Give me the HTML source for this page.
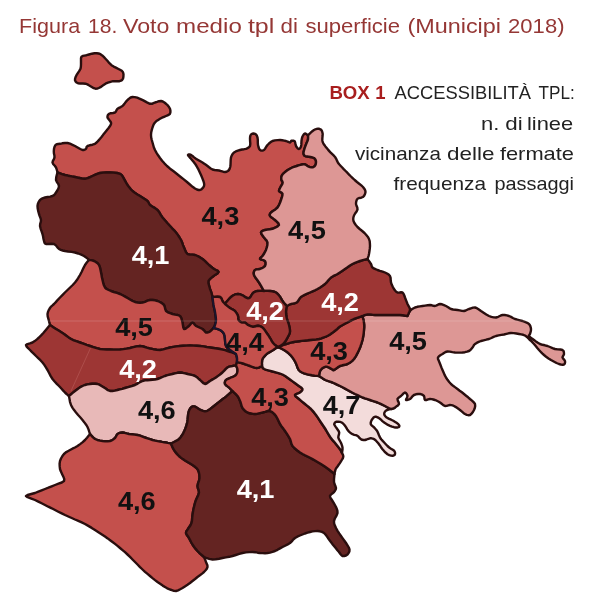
<!DOCTYPE html>
<html lang="it"><head><meta charset="utf-8"><title>Figura 18. Voto medio tpl di superficie (Municipi 2018)</title>
<style>
html,body{margin:0;padding:0;background:#fff;}
body{width:600px;height:602px;overflow:hidden;font-family:"Liberation Sans",sans-serif;}
svg{display:block;filter:blur(0.45px)}
.t{font-family:"Liberation Sans",sans-serif}
.lab{font-family:"Liberation Sans",sans-serif;font-weight:700;font-size:26px}
.reg{stroke:#2a0e0e;stroke-width:2.4;stroke-linejoin:round}
</style></head><body>
<svg width="600" height="602" viewBox="0 0 600 602">
<rect width="600" height="602" fill="#fff"/>
<g class="reg">
<path fill="#c4504c" d="M81.5,56.7 L82.7,55.9 L84.4,55.6 L86.5,55.2 L89,54.5 L91.9,53.7 L94.5,53.2 L96.7,53.2 L98.6,53.5 L100.5,54.2 L102.2,55.4 L103.8,56.9 L105.5,58.7 L107.4,60.8 L109.4,63.2 L111.5,65.2 L113.7,66.6 L115.9,67.6 L118,68.7 L120,69.8 L121.8,70.8 L123,72.2 L123.5,74.3 L123.4,76.7 L123,78.7 L122.2,79.9 L121,80.7 L119.5,81.2 L117.6,81.3 L115.4,81.1 L113,81.2 L110.5,81.8 L107.9,82.7 L105.5,83.7 L103.6,84.9 L102.1,86.1 L100.5,87.2 L98.8,88 L97.2,88.6 L95.5,88.7 L93.8,88.2 L92.2,87.2 L90.5,86.2 L88.9,85.3 L87.4,84.4 L85.5,83.7 L83,83.5 L80.3,83.5 L78,83.2 L76.5,82.5 L75.5,81.4 L75,80.2 L75.1,78.7 L75.6,77.1 L76.5,75.2 L77.8,73.1 L79.3,70.9 L80.5,68.7 L80.9,66.5 L81,64.3 L81,62.2 L81,60.1 L81,58.2Z"/>
<path fill="#c4504c" d="M57.5,172.5 L57.2,171.2 L56.7,169.4 L56,167.5 L54.8,165.8 L53.3,164.2 L52.5,162.5 L52.9,160.9 L53.8,159.3 L54.5,157.5 L54.4,155.4 L53.9,153.2 L53.8,151 L54,148.8 L54.6,146.6 L55.5,145 L56.7,144.2 L58.2,144 L60,143.8 L62.3,143.3 L64.9,143 L67.5,143 L70,143.7 L72.5,144.8 L75,146 L77.6,147.5 L80.3,149 L82.5,150 L84,150 L85.1,149.5 L86,148.8 L86.4,147.9 L86.6,146.9 L87.5,146 L89.6,145.3 L92.5,144.7 L95,143.8 L96.9,142.3 L98.4,140.6 L100,138.8 L101.7,136.8 L103.3,134.6 L105,132.5 L106.8,130.2 L108.6,128 L110,126 L110.8,124.7 L111.1,123.7 L111,122.5 L110,120.9 L108.5,119.1 L107.5,117.5 L107.5,116.1 L108,114.8 L109,113.8 L110.8,113.2 L113.1,113 L115,112.5 L116,111.4 L116.6,110 L117.5,108.8 L119,107.9 L120.7,107.1 L122.5,106 L124.2,104.1 L125.8,101.9 L127.5,100 L129.1,98.6 L130.6,97.5 L132.5,97 L134.7,97.1 L137.2,97.7 L140,98.8 L143.3,100.4 L146.9,102.4 L150,103.8 L152,103.8 L153.4,103.2 L155,102.5 L157,101.9 L159,101.2 L161,101 L162.8,101.5 L164.4,102.5 L166,103.8 L167.6,105.2 L169,107 L170,108.8 L170.4,110.5 L170.4,112.3 L170,113.8 L169,114.7 L167.6,115.3 L166,116 L164.1,116.8 L162,117.7 L160,118.8 L158.2,119.9 L156.4,121.1 L155,122.5 L153.9,124 L153.2,125.6 L152.5,127.5 L151.8,129.8 L151.2,132.4 L151,135 L151.2,137.5 L151.8,140 L152.5,142.5 L153.2,145 L153.9,147.5 L155,150 L156.4,152.6 L158.1,155.3 L160,158 L162.1,160.7 L164.4,163.3 L167,166 L170.1,168.7 L173.6,171.3 L177,174 L180.4,176.7 L183.8,179.4 L187,182 L189.9,184.5 L192.6,186.8 L195,188.5 L196.9,189.5 L198.6,190 L200,190 L201.4,189.4 L202.6,188.2 L203.5,187 L204,185.9 L204.2,184.7 L204,183 L203.3,180.7 L202.2,177.9 L201,175 L199.6,172 L198.1,168.8 L196.5,166 L195,163.7 L193.5,161.8 L192,160 L190.4,158.1 L188.8,156.3 L188,155 L188.4,154.5 L189.6,154.5 L191,155 L192.5,156 L194.1,157.4 L196,158.8 L198.1,160 L200.4,161.3 L202.5,162.5 L204.3,163.7 L205.9,164.8 L207.5,166 L209.1,167.3 L210.7,168.5 L212.5,169.5 L214.6,170 L216.8,170.2 L219,170.5 L221.1,171.1 L223.2,171.7 L225,172 L226.6,171.7 L227.9,171 L229,170 L229.7,168.6 L230.2,167 L230.5,165 L230.6,162.6 L230.7,159.9 L231,157.5 L231.7,155.6 L232.7,153.9 L234,152.5 L235.8,151.4 L237.9,150.6 L240,150 L242.1,149.5 L244.1,149.2 L246,148.8 L247.6,148.1 L249,147.3 L250,146 L250.3,143.8 L250.1,141.1 L250,138.8 L250.1,137 L250.4,135.5 L251,134.5 L252.2,133.8 L253.7,133.5 L255,133.8 L256,134.5 L256.9,135.8 L257.5,137.5 L257.8,139.8 L257.8,142.5 L258,145 L258.5,147 L259.1,148.8 L260,150 L261.2,150.6 L262.6,150.6 L264,150 L265.1,148.7 L266.2,146.8 L267.5,145 L269,143.5 L270.6,142.1 L272.5,141 L274.9,140.4 L277.5,140.1 L280,140 L282.2,140.2 L284.2,140.6 L286,141 L287.6,141.6 L288.9,142.2 L290,142.5 L290.6,142.1 L291,141.2 L291.5,140.7 L292.5,140.6 L293.7,140.7 L294.7,141.3 L295.2,142.6 L295.5,144.4 L296,146 L296.8,147.3 L297.8,148.5 L298.7,149 L299.6,148.7 L300.4,147.8 L301,146.5 L301.3,144.9 L301.4,142.9 L301.5,141 L301.7,139.4 L302,137.9 L302.5,136.5 L303.2,135.2 L304.1,134.1 L305,133.5 L306.1,133.9 L307.2,134.8 L308,135.5 L308.1,136.5 L308.1,138 L308,139.5 L307.6,140.7 L307.1,141.9 L306.5,143.3 L305.8,145 L305.1,146.9 L304.5,148.7 L304,150.4 L303.6,151.9 L303.5,153.3 L303.7,154.4 L304.2,155.3 L305,156 L306,156.4 L307.3,156.5 L308.7,156.7 L310.5,157 L312.4,157.4 L314,158 L315,158.9 L315.7,160.1 L316,161.3 L316,162.7 L315.8,164.1 L315.3,165.3 L314.6,166.2 L313.7,166.9 L312.7,167.3 L311.4,167.4 L310,167.1 L308.7,166.7 L307.5,166 L306.4,165.1 L305.3,164.5 L304.3,164.3 L303.2,164.3 L302,164.5 L300.4,164.9 L298.5,165.4 L296.7,166 L294.9,166.6 L293.1,167.2 L291.3,168 L289.5,169 L287.7,170.1 L286,171.3 L284.4,172.6 L283,173.9 L282,175.3 L281.4,176.7 L281.3,178 L281.3,179.3 L281.7,180.5 L282.4,181.5 L282.7,182.7 L282.3,184 L281.5,185.3 L280.7,186.7 L279.9,188.2 L279.2,189.7 L279,191 L280,191.9 L281.5,192.6 L282.5,193.8 L282.4,195.5 L281.8,197.7 L281,200 L280.1,202.5 L279,205.1 L277.5,207.5 L275.4,209.4 L272.9,211 L271,212.5 L270,213.8 L269.7,214.9 L270,216 L271.3,217.3 L273.2,218.6 L275,220 L276.8,221.6 L278.5,223.4 L279,225 L277.6,226.4 L275.1,227.7 L272.5,228.8 L269.9,229.3 L267.3,229.6 L265,230 L263.1,230.6 L261.7,231.4 L261,232.5 L261.5,234 L262.7,235.7 L264,237.5 L265.3,239.1 L266.7,240.6 L267.5,242.5 L267.4,244.9 L266.8,247.5 L266,250 L264.9,252.2 L263.7,254.3 L262.5,256 L261.3,257.3 L260.2,258.2 L260,259 L261.3,259.6 L263.4,260.1 L265,261 L265.6,262.5 L265.6,264.4 L265,266 L263.7,267.2 L261.9,268.2 L260,269 L258.2,269.3 L256.4,269.4 L255,270 L254.1,271.3 L253.7,273 L254,275 L255.2,277.3 L257.1,279.8 L259,282.5 L260.9,285.6 L262.7,288.8 L264,291 L262.2,290.9 L259.8,290.9 L257.5,291 L255.8,291.4 L254.3,292.1 L253,293 L251.9,294.5 L250.9,296.2 L250,297.5 L249,298.1 L248.1,298.2 L247,298 L245.8,297.4 L244.4,296.4 L243,295.5 L241.4,294.8 L239.7,294.2 L238,294 L236.3,294.2 L234.6,294.7 L233,295.5 L231.6,296.5 L230.3,297.6 L229,299 L227.5,300.7 L226,302.6 L225,304 L224.4,303.3 L223.4,302.2 L222.5,301 L221.9,299.6 L221.2,298.1 L220,297 L217.6,296.7 L214.6,296.9 L212.5,297 L212.3,296 L211.9,294.6 L211.5,293 L210.9,291.1 L210.1,289.1 L209.5,287 L208.9,284.9 L208.4,282.9 L208.5,281 L209.6,279.4 L211.2,277.9 L213,276.5 L215.1,274.9 L217.4,273.4 L218.5,272 L217.8,270.9 L215.9,270 L214,269 L212.4,267.8 L210.8,266.5 L209,265 L207,263.1 L204.8,260.9 L202.5,259 L200.1,257.4 L197.5,256 L195,255 L192.4,254.6 L189.7,254.6 L187.5,254 L186,252.3 L185,249.9 L184,247.5 L183,245.1 L182.1,242.5 L181,240 L179.5,237.5 L177.8,234.9 L176,232.5 L174.1,230.3 L172.1,228.3 L170,226 L167.5,223.3 L164.9,220.3 L162.5,217.5 L160.7,214.8 L159.3,212.3 L157.5,210 L155,208.1 L152.2,206.5 L150,205 L149,203.6 L148.5,202.4 L147.5,201 L145.4,199.4 L142.7,197.7 L140,196 L137.4,194.4 L134.8,192.7 L132.5,191 L130.6,189.1 L129,187.1 L127.5,185 L126.2,182.9 L125.1,180.8 L124,178.8 L122.9,176.9 L121.8,175.1 L120,173.8 L117.1,173 L113.6,172.6 L110,172.5 L106.6,172.4 L103.1,172.6 L100,173 L97.3,173.8 L94.9,174.9 L92.5,176 L90.1,177.1 L87.7,178.2 L85,178.8 L81.9,178.5 L78.4,177.8 L75,177 L71.6,176.4 L68.1,175.7 L65,175 L62,174.1 L59.4,173.2 L57.5,172.5Z"/>
<path fill="#642422" d="M57.5,172.5 L59.4,173.2 L62,174.1 L65,175 L68.1,175.7 L71.6,176.4 L75,177 L78.4,177.8 L81.9,178.5 L85,178.8 L87.7,178.2 L90.1,177.1 L92.5,176 L94.9,174.9 L97.3,173.8 L100,173 L103.1,172.6 L106.6,172.4 L110,172.5 L113.6,172.6 L117.1,173 L120,173.8 L121.8,175.1 L122.9,176.9 L124,178.8 L125.1,180.8 L126.2,182.9 L127.5,185 L129,187.1 L130.6,189.1 L132.5,191 L134.8,192.7 L137.4,194.4 L140,196 L142.7,197.7 L145.4,199.4 L147.5,201 L148.5,202.4 L149,203.6 L150,205 L152.2,206.5 L155,208.1 L157.5,210 L159.3,212.3 L160.7,214.8 L162.5,217.5 L164.9,220.3 L167.5,223.3 L170,226 L172.1,228.3 L174.1,230.3 L176,232.5 L177.8,234.9 L179.5,237.5 L181,240 L182.1,242.5 L183,245.1 L184,247.5 L185,249.9 L186,252.3 L187.5,254 L189.7,254.6 L192.4,254.6 L195,255 L197.5,256 L200.1,257.4 L202.5,259 L204.8,260.9 L207,263.1 L209,265 L210.8,266.5 L212.4,267.8 L214,269 L215.9,270 L217.8,270.9 L218.5,272 L217.4,273.4 L215.1,274.9 L213,276.5 L211.2,277.9 L209.6,279.4 L208.5,281 L208.4,282.9 L208.9,284.9 L209.5,287 L210.1,289.1 L210.9,291.1 L211.5,293 L211.9,294.6 L212.3,296 L212.5,297 L212.7,299.1 L213.1,302.1 L213.5,305 L214,307.4 L214.5,309.6 L215,312 L215.4,314.7 L215.8,317.5 L216,320 L215.8,322 L215.4,323.6 L215,325 L214.5,326.3 L213.9,327.3 L213.5,328 L212.6,329 L211.3,330.4 L210,331.5 L208.7,332.2 L207.3,332.6 L206,332.5 L204.9,331.6 L203.9,330.3 L202.5,329 L200.4,328 L198.1,327 L196,326 L194.6,324.6 L193.6,323.2 L192.5,322.5 L191.4,323.2 L190.3,324.6 L189,326 L187.3,327.4 L185.5,328.7 L184,329 L183.3,327.5 L182.9,325 L182.5,322.5 L181.9,320.2 L181.2,317.8 L180,316 L177.8,315 L175.1,314.6 L172.5,314 L170.1,313.2 L167.8,312.3 L166,311 L165.2,309.1 L164.8,307 L164,305 L162.2,303.4 L159.9,302 L157.5,301 L155.1,300.3 L152.5,300 L150,300 L147.5,300.7 L145,301.8 L142.5,302.5 L140,302.7 L137.5,302.5 L135,302 L132.5,300.9 L130,299.5 L127.5,298 L125.1,296.6 L122.6,295.3 L120,294 L117,292.9 L113.8,292 L111,291 L108.6,290 L106.6,289 L105,287.5 L103.9,285.3 L103.1,282.6 L102.5,280 L101.9,277.5 L101.5,275 L101,272.5 L100.5,269.9 L99.9,267.2 L99,265 L97.6,263.3 L95.8,262 L94,261 L92.1,260.4 L90.3,260.1 L89,260 L87.9,258.9 L86.1,257.4 L84,256 L81.3,254.7 L78.2,253.5 L75,252.5 L71.6,251.9 L68.1,251.5 L65,251 L62.7,250.5 L60.8,249.9 L59,249 L57.4,247.4 L55.9,245.4 L54,244 L51.3,243.7 L48.3,244 L46,244 L44.9,243.4 L44.4,242.4 L44,241 L43.5,239 L43.1,236.6 L42.5,234 L41.6,231.3 L40.6,228.6 L40,226 L40.2,223.9 L40.8,221.9 L41,220 L40.5,218.1 L39.7,216.1 L39,214 L38.3,211.4 L37.7,208.6 L37.5,206 L37.9,203.7 L38.8,201.7 L40,200 L41.4,198.9 L43.1,198.1 L45,197.5 L47.5,197 L50.2,196.6 L52.5,196 L54,195.1 L55,194 L56,192.5 L57.3,190.5 L58.5,188.2 L59,186 L58.3,184 L56.9,182.1 L56,180 L56.2,177.3 L56.9,174.5 L57.5,172.5Z"/>
<path fill="#c4504c" d="M89,260 L88,261.1 L86.6,262.8 L85,265 L83.4,268.1 L81.7,271.7 L80,275 L78.4,277.7 L76.9,280.1 L75,282.5 L72.7,285 L70.1,287.5 L67.5,290 L64.9,292.5 L62.4,295.1 L60,297.5 L57.8,299.8 L55.8,302.1 L54,304 L52.5,305.4 L51.1,306.6 L50,308 L48.9,309.8 L48,311.9 L47.5,314 L47.7,316.4 L48.4,318.9 L49,321 L49.4,322.7 L49.8,324.1 L50,325 L51.5,326 L53.6,327.4 L56,329 L58.6,330.6 L61.3,332.3 L64,334 L66.3,335.7 L68.6,337.4 L71,339 L73.8,340.3 L76.9,341.4 L80,342.5 L83.3,343.7 L86.6,344.9 L90,346 L93.3,347.1 L96.7,348.2 L100,349 L103.3,349.4 L106.7,349.5 L110,349.5 L113.3,349.6 L116.7,349.6 L120,349.5 L123.3,349.1 L126.7,348.6 L130,348 L133.3,347.2 L136.7,346.4 L140,346 L143.3,346.5 L146.7,347.6 L150,348.5 L153.3,349.2 L156.7,349.8 L160,350 L163.3,349.4 L166.7,348.4 L170,347.5 L173.3,346.9 L176.7,346.4 L180,346 L183.3,345.7 L186.7,345.6 L190,345.5 L193.3,345.6 L196.7,345.7 L200,346 L203.3,346.4 L206.7,347 L210,347.5 L213.4,348 L216.9,348.5 L220,349 L222.6,349.6 L225,350.2 L227.5,351 L230.6,352 L233.8,353.2 L236,354 L234.4,353 L232.1,351.5 L230,350 L228.4,348.7 L227,347.5 L226,346 L225.4,344.1 L225.2,342.1 L225,340 L224.8,337.9 L224.6,335.9 L224,334 L223,332.4 L221.6,331.1 L220,330 L217.8,329.1 L215.3,328.4 L213.5,328 L212.6,329 L211.3,330.4 L210,331.5 L208.7,332.2 L207.3,332.6 L206,332.5 L204.9,331.6 L203.9,330.3 L202.5,329 L200.4,328 L198.1,327 L196,326 L194.6,324.6 L193.6,323.2 L192.5,322.5 L191.4,323.2 L190.3,324.6 L189,326 L187.3,327.4 L185.5,328.7 L184,329 L183.3,327.5 L182.9,325 L182.5,322.5 L181.9,320.2 L181.2,317.8 L180,316 L177.8,315 L175.1,314.6 L172.5,314 L170.1,313.2 L167.8,312.3 L166,311 L165.2,309.1 L164.8,307 L164,305 L162.2,303.4 L159.9,302 L157.5,301 L155.1,300.3 L152.5,300 L150,300 L147.5,300.7 L145,301.8 L142.5,302.5 L140,302.7 L137.5,302.5 L135,302 L132.5,300.9 L130,299.5 L127.5,298 L125.1,296.6 L122.6,295.3 L120,294 L117,292.9 L113.8,292 L111,291 L108.6,290 L106.6,289 L105,287.5 L103.9,285.3 L103.1,282.6 L102.5,280 L101.9,277.5 L101.5,275 L101,272.5 L100.5,269.9 L99.9,267.2 L99,265 L97.6,263.3 L95.8,262 L94,261 L92.1,260.4 L90.3,260.1 L89,260Z"/>
<path fill="#9d3634" d="M50,325 L48.7,326.5 L46.9,328.7 L45,331 L43.1,333.2 L41.1,335.4 L39,337.5 L36.9,339.4 L34.7,341.1 L32.5,342.5 L29.9,343.4 L27.4,344.1 L26,345 L26.5,346.4 L28.1,348.2 L30,350 L31.8,351.9 L33.9,353.9 L36,356 L38.2,358.1 L40.4,360.2 L42.5,362.5 L44.3,364.9 L45.9,367.4 L47.5,370 L49.1,373 L50.7,376.1 L52.5,379 L54.6,381.5 L56.8,383.8 L59,386 L61.1,388.3 L63.2,390.6 L65,392.5 L66.6,394 L68,395.2 L69,396 L70.5,394.7 L72.7,392.9 L75,391 L77.4,389.2 L79.9,387.4 L82.5,386 L85,385 L87.5,384.4 L90,384 L92.5,383.7 L95.1,383.7 L97.5,384 L99.8,384.9 L101.9,386.2 L104,387.5 L106,388.8 L107.9,390.2 L110,391 L112.4,391 L114.9,390.6 L117.5,390 L119.9,389.4 L122.3,388.8 L125,388 L128.2,387.1 L131.8,386.1 L135,385 L137.7,383.6 L140.1,382.1 L142.5,381 L145,380.4 L147.5,380.2 L150,380 L152.5,379.7 L155,379.5 L157.5,379 L160,378.1 L162.5,377 L165,376 L167.5,375.2 L170,374.6 L172.5,374 L175,373.4 L177.5,372.8 L180,372.5 L182.5,372.8 L185,373.4 L187.5,374 L190.1,374.6 L192.7,375.2 L195,376 L196.9,377.2 L198.4,378.6 L200,380 L201.7,381.6 L203.3,383.2 L205,384 L206.6,383.5 L208.3,382.3 L210,381 L211.9,379.9 L213.9,378.8 L216,377.5 L218.2,375.9 L220.4,374.2 L222.5,372.5 L224.3,370.7 L225.9,368.9 L227.5,367.5 L229.2,366.7 L230.9,366.3 L232.5,366 L233.9,365.7 L235.1,365.6 L236,365.5 L237,362 L237,361 L237.1,359.5 L237,358 L236.7,356.5 L236.3,355 L236,354 L233.8,353.2 L230.6,352 L227.5,351 L225,350.2 L222.6,349.6 L220,349 L216.9,348.5 L213.4,348 L210,347.5 L206.7,347 L203.3,346.4 L200,346 L196.7,345.7 L193.3,345.6 L190,345.5 L186.7,345.6 L183.3,345.7 L180,346 L176.7,346.4 L173.3,346.9 L170,347.5 L166.7,348.4 L163.3,349.4 L160,350 L156.7,349.8 L153.3,349.2 L150,348.5 L146.7,347.6 L143.3,346.5 L140,346 L136.7,346.4 L133.3,347.2 L130,348 L126.7,348.6 L123.3,349.1 L120,349.5 L116.7,349.6 L113.3,349.6 L110,349.5 L106.7,349.5 L103.3,349.4 L100,349 L96.7,348.2 L93.3,347.1 L90,346 L86.6,344.9 L83.3,343.7 L80,342.5 L76.9,341.4 L73.8,340.3 L71,339 L68.6,337.4 L66.3,335.7 L64,334 L61.3,332.3 L58.6,330.6 L56,329 L53.6,327.4 L51.5,326 L50,325Z"/>
<path fill="#e8b9b8" d="M69,396 L69.4,398.4 L70,401.8 L71,405 L72.4,407.6 L74.1,410.1 L76,412.5 L78.1,415 L80.4,417.5 L82.5,420 L84.4,422.4 L86.1,424.7 L87.5,427 L88.6,429.6 L89.4,432.2 L90,434 L91.2,435.4 L93,437.4 L95,439 L97.3,440 L99.9,440.6 L102.5,441 L105.1,441.3 L107.7,441.3 L110,441 L111.9,440.3 L113.6,439.2 L115,438 L115.9,436.6 L116.6,435.2 L117.5,434 L118.9,433.2 L120.6,432.7 L122.5,432.5 L124.5,432.8 L126.6,433.4 L129,434 L131.7,434.3 L134.7,434.6 L137.5,435 L140.1,435.7 L142.5,436.6 L145,437.5 L147.5,438.4 L150,439.2 L152.5,440 L155.1,440.6 L157.6,441.1 L160,441.5 L162.1,441.9 L164.1,442.2 L166,442.5 L167.9,442.9 L169.7,443.2 L171,443.5 L172.1,443 L173.6,442.2 L175,441.5 L176.2,440.9 L177.4,440.3 L178.5,439.5 L179.7,438.4 L180.8,437 L182,435.3 L183.2,433.3 L184.3,431 L185.3,428.7 L186.1,426.5 L186.8,424.2 L187.3,422 L187.6,419.7 L187.8,417.4 L188,415.3 L188.3,413.4 L188.7,411.6 L189.3,410 L190.1,408.6 L191,407.5 L192,406.7 L193,406.4 L194.1,406.4 L195.3,406.7 L196.5,407.4 L197.8,408.4 L199.3,409.3 L201,410.1 L203,410.9 L204.7,411.3 L206.1,411.2 L207.3,410.8 L208.7,410 L210.3,408.9 L212.1,407.5 L214,406 L216.2,404.3 L218.5,402.4 L220.7,400.7 L222.5,399.3 L224.2,398.1 L226,396.7 L228.3,394.7 L230.8,392.5 L232.5,391 L231.6,390.1 L230.3,388.8 L229,387.5 L227.5,386.4 L226,385.2 L225,384 L224.8,382.6 L225.2,381.2 L226,380 L227.4,379.1 L229.2,378.3 L231,377.5 L232.8,376.8 L234.6,376 L236,375 L236.9,373.5 L237.4,371.7 L237.5,370 L237.2,368.3 L236.5,366.6 L236,365.5 L235.1,365.6 L233.9,365.7 L232.5,366 L230.9,366.3 L229.2,366.7 L227.5,367.5 L225.9,368.9 L224.3,370.7 L222.5,372.5 L220.4,374.2 L218.2,375.9 L216,377.5 L213.9,378.8 L211.9,379.9 L210,381 L208.3,382.3 L206.6,383.5 L205,384 L203.3,383.2 L201.7,381.6 L200,380 L198.4,378.6 L196.9,377.2 L195,376 L192.7,375.2 L190.1,374.6 L187.5,374 L185,373.4 L182.5,372.8 L180,372.5 L177.5,372.8 L175,373.4 L172.5,374 L170,374.6 L167.5,375.2 L165,376 L162.5,377 L160,378.1 L157.5,379 L155,379.5 L152.5,379.7 L150,380 L147.5,380.2 L145,380.4 L142.5,381 L140.1,382.1 L137.7,383.6 L135,385 L131.8,386.1 L128.2,387.1 L125,388 L122.3,388.8 L119.9,389.4 L117.5,390 L114.9,390.6 L112.4,391 L110,391 L107.9,390.2 L106,388.8 L104,387.5 L101.9,386.2 L99.8,384.9 L97.5,384 L95.1,383.7 L92.5,383.7 L90,384 L87.5,384.4 L85,385 L82.5,386 L79.9,387.4 L77.4,389.2 L75,391 L72.7,392.9 L70.5,394.7 L69,396Z"/>
<path fill="#c4504c" d="M90,434 L88.8,435.6 L87,437.8 L85,440 L82.7,442.1 L80.1,444.1 L77.5,446 L74.9,447.5 L72.4,448.7 L70,450 L67.8,451.2 L65.8,452.4 L64,454 L62.4,456.1 L61,458.5 L60,461 L59.6,463.7 L59.7,466.4 L60,469 L60.7,471.1 L61.6,473.1 L62.5,475 L63.5,477.1 L64.3,479.1 L64,481 L61.8,482.5 L58.5,483.7 L55,485 L51.7,486.3 L48.4,487.7 L45,489 L41.6,490.4 L38.3,491.7 L35,493 L31.3,494 L27.6,495 L26,496 L27.6,497.2 L31.3,498.6 L35,500 L38.3,501.6 L41.6,503.3 L45,505 L48.3,506.7 L51.7,508.3 L55,510 L58.3,511.7 L61.7,513.4 L65,515 L68.3,516.5 L71.7,518 L75,519.5 L78.3,520.9 L81.7,522.4 L85,524 L88.3,525.9 L91.7,527.9 L95,530 L98.4,532.2 L101.9,534.4 L105,536.5 L107.7,538.4 L110.1,540.2 L112.5,542 L115,543.9 L117.5,545.9 L120,548 L122.5,550.1 L125,552.2 L127.5,554.5 L130,556.9 L132.5,559.5 L135,562 L137.5,564.5 L140,567.1 L142.5,569.5 L145,571.8 L147.5,573.9 L150,576 L152.5,578.1 L155,580.1 L157.5,582 L160.1,583.8 L162.7,585.6 L165,587 L166.8,588.1 L168.4,588.8 L170,589.5 L171.9,590.2 L173.9,590.9 L176,591 L178.1,590.4 L180.2,589.3 L182.5,588 L184.9,586.5 L187.5,584.8 L190,583 L192.5,581 L195.1,579 L197.5,577 L199.9,575.3 L202.1,573.6 L204,572 L205.6,570.3 L206.8,568.7 L207.5,567 L207.4,565.3 L206.7,563.7 L206,562 L205.3,560.1 L204.5,558.3 L204,557 L202.3,555.5 L199.8,553.3 L197.5,551 L195.7,548.9 L194,546.7 L192.5,544.5 L191.2,542.3 L190.1,540.1 L189,538 L187.8,536.2 L186.6,534.5 L186,533 L186.2,531.7 L187,530.4 L188,529 L189.1,527.2 L190.5,525.2 L191.5,523 L192,520.5 L192.2,517.7 L192.5,515 L192.9,512.3 L193.4,509.6 L194,507 L194.6,504.6 L195.2,502.3 L196,500 L197.1,497.5 L198.3,494.9 L199,492.5 L198.7,490.3 L197.9,488.2 L197.5,486 L198,483.4 L199,480.7 L199.5,478 L199.4,475.2 L198.9,472.4 L198,470 L196.5,468.1 L194.6,466.5 L192.5,465 L190.1,463.5 L187.5,462 L185,460.5 L182.9,459.1 L180.9,457.6 L179,456 L177.2,454.1 L175.5,452.1 L174,450 L172.7,447.6 L171.7,445.2 L171,443.5 L169.7,443.2 L167.9,442.9 L166,442.5 L164.1,442.2 L162.1,441.9 L160,441.5 L157.6,441.1 L155.1,440.6 L152.5,440 L150,439.2 L147.5,438.4 L145,437.5 L142.5,436.6 L140.1,435.7 L137.5,435 L134.7,434.6 L131.7,434.3 L129,434 L126.6,433.4 L124.5,432.8 L122.5,432.5 L120.6,432.7 L118.9,433.2 L117.5,434 L116.6,435.2 L115.9,436.6 L115,438 L113.6,439.2 L111.9,440.3 L110,441 L107.7,441.3 L105.1,441.3 L102.5,441 L99.9,440.6 L97.3,440 L95,439 L93,437.4 L91.2,435.4 L90,434Z"/>
<path fill="#642422" d="M204,557 L206.1,557.8 L209.2,558.9 L212.5,559.5 L215.7,559.3 L219.1,558.7 L222.5,558 L225.8,557.4 L229.2,556.8 L232.5,556 L235.8,555 L239.2,553.9 L242.5,553 L245.9,552.4 L249.4,552.1 L252.5,552 L255.2,552.2 L257.6,552.7 L260,553 L262.5,553.1 L265,553.2 L267.5,553 L270,552.6 L272.5,551.9 L275,551 L277.5,549.8 L280,548.4 L282.5,547 L285.1,545.7 L287.7,544.4 L290,543 L291.8,541.4 L293.2,539.6 L295,538 L297.3,536.7 L299.9,535.5 L302.5,534.5 L305,533.5 L307.5,532.7 L310,532 L312.5,531.4 L315.1,531.1 L317.5,531 L319.8,531.3 L322,531.9 L324,533 L325.8,534.8 L327.4,537.2 L329,539.5 L330.7,541.7 L332.3,543.9 L334,546 L335.7,548.1 L337.4,550.2 L339,552 L340.2,553.7 L341.3,555.1 L342.5,556 L344.2,556 L346,555.5 L347.5,554.5 L348.6,553.1 L349.4,551.4 L349.5,549.5 L348.8,547.5 L347.5,545.3 L346,543 L344.4,540.7 L342.7,538.4 L341,536 L339.2,533.4 L337.4,530.6 L336,528 L334.9,525.6 L334.1,523.4 L334,521 L334.9,518.3 L336.5,515.6 L337.5,513 L337.4,510.9 L336.8,508.9 L336,507 L334.9,505 L333.7,502.9 L332.5,501 L331.4,499.2 L330.3,497.6 L330,496 L330.9,494.6 L332.6,493.3 L334,492 L335,490.7 L335.7,489.5 L336,488 L335.5,486.2 L334.6,484.2 L334,482 L334,479.2 L334.3,476.1 L334.5,474 L333.1,472.8 L331.1,471.2 L329,469.5 L326.9,468 L324.8,466.5 L322.5,465 L320.1,463.5 L317.5,462 L315,460.5 L312.5,459.1 L310,457.8 L307.5,456.5 L305,455.3 L302.5,454 L300,452.5 L297.3,450.5 L294.6,448.3 L292.5,446 L291.4,443.7 L290.8,441.4 L290,439 L288.5,436.4 L286.8,433.6 L285,431 L283.3,428.6 L281.6,426.4 L280,424 L278.7,421.3 L277.4,418.5 L276,416 L274.2,413.9 L272.2,412.1 L270,411 L267.6,411 L265.1,411.8 L262.5,412.5 L260,413.1 L257.5,413.7 L255,414 L252.4,413.8 L249.8,413.3 L247.5,412.5 L245.5,411.3 L243.9,409.7 L242.5,408 L241.6,406.1 L241.1,404.1 L240.5,402 L239.6,400 L238.7,397.9 L237.5,396 L235.8,394.1 L233.9,392.3 L232.5,391 L230.8,392.5 L228.3,394.7 L226,396.7 L224.2,398.1 L222.5,399.3 L220.7,400.7 L218.5,402.4 L216.2,404.3 L214,406 L212.1,407.5 L210.3,408.9 L208.7,410 L207.3,410.8 L206.1,411.2 L204.7,411.3 L203,410.9 L201,410.1 L199.3,409.3 L197.8,408.4 L196.5,407.4 L195.3,406.7 L194.1,406.4 L193,406.4 L192,406.7 L191,407.5 L190.1,408.6 L189.3,410 L188.7,411.6 L188.3,413.4 L188,415.3 L187.8,417.4 L187.6,419.7 L187.3,422 L186.8,424.2 L186.1,426.5 L185.3,428.7 L184.3,431 L183.2,433.3 L182,435.3 L180.8,437 L179.7,438.4 L178.5,439.5 L177.4,440.3 L176.2,440.9 L175,441.5 L173.6,442.2 L172.1,443 L171,443.5 L171.7,445.2 L172.7,447.6 L174,450 L175.5,452.1 L177.2,454.1 L179,456 L180.9,457.6 L182.9,459.1 L185,460.5 L187.5,462 L190.1,463.5 L192.5,465 L194.6,466.5 L196.5,468.1 L198,470 L198.9,472.4 L199.4,475.2 L199.5,478 L199,480.7 L198,483.4 L197.5,486 L197.9,488.2 L198.7,490.3 L199,492.5 L198.3,494.9 L197.1,497.5 L196,500 L195.2,502.3 L194.6,504.6 L194,507 L193.4,509.6 L192.9,512.3 L192.5,515 L192.2,517.7 L192,520.5 L191.5,523 L190.5,525.2 L189.1,527.2 L188,529 L187,530.4 L186.2,531.7 L186,533 L186.6,534.5 L187.8,536.2 L189,538 L190.1,540.1 L191.2,542.3 L192.5,544.5 L194,546.7 L195.7,548.9 L197.5,551 L199.8,553.3 L202.3,555.5 L204,557Z"/>
<path fill="#c4504c" d="M237,362 L238.5,362.4 L240.7,362.9 L243,363.5 L245.3,364.3 L247.7,365.2 L250,366 L252.3,366.9 L254.6,367.6 L256.7,368 L258.8,367.6 L260.7,366.7 L262,366 L262.3,366.8 L262.8,367.9 L264,369 L266.3,369.9 L269.3,370.6 L272.5,371.5 L275.8,372.4 L279.3,373.3 L282.5,374.5 L285.2,376 L287.6,377.7 L290,379.5 L292.6,381.4 L295.2,383.3 L297.5,385 L299.6,386.5 L301.5,387.8 L302.5,389 L302.3,390.2 L301.3,391.4 L300,392.5 L298.2,393.4 L296.1,394.1 L295,395 L295.6,396.2 L297.2,397.5 L299,399 L300.9,400.6 L302.9,402.3 L305,404 L307,405.6 L309.1,407.3 L311,409 L312.7,410.9 L314.4,412.9 L316,415 L317.7,417.4 L319.3,419.9 L321,422.5 L322.7,425 L324.4,427.5 L326,430 L327.5,432.6 L329,435.1 L330.5,437.5 L332.1,439.6 L333.9,441.6 L335.5,443.5 L337.1,445.5 L338.7,447.5 L340,449.2 L340.9,450.7 L341.6,452.1 L342,453 L342.5,453.9 L343.1,455.2 L343.3,456.7 L342.8,458.3 L341.8,460 L340.8,461.7 L339.7,463.4 L338.5,465 L337.5,466.5 L336.7,467.6 L336,468.5 L335.5,469.5 L335.1,471.1 L334.7,472.8 L334.5,474 L333.1,472.8 L331.1,471.2 L329,469.5 L326.9,468 L324.8,466.5 L322.5,465 L320.1,463.5 L317.5,462 L315,460.5 L312.5,459.1 L310,457.8 L307.5,456.5 L305,455.3 L302.5,454 L300,452.5 L297.3,450.5 L294.6,448.3 L292.5,446 L291.4,443.7 L290.8,441.4 L290,439 L288.5,436.4 L286.8,433.6 L285,431 L283.3,428.6 L281.6,426.4 L280,424 L278.7,421.3 L277.4,418.5 L276,416 L274.2,413.9 L272.2,412.1 L270,411 L267.6,411 L265.1,411.8 L262.5,412.5 L260,413.1 L257.5,413.7 L255,414 L252.4,413.8 L249.8,413.3 L247.5,412.5 L245.5,411.3 L243.9,409.7 L242.5,408 L241.6,406.1 L241.1,404.1 L240.5,402 L239.6,400 L238.7,397.9 L237.5,396 L235.8,394.1 L233.9,392.3 L232.5,391 L231.6,390.1 L230.3,388.8 L229,387.5 L227.5,386.4 L226,385.2 L225,384 L224.8,382.6 L225.2,381.2 L226,380 L227.4,379.1 L229.2,378.3 L231,377.5 L232.8,376.8 L234.6,376 L236,375 L236.9,373.5 L237.4,371.7 L237.5,370 L237.2,368.3 L236.5,366.6 L236,365.5 L237,362Z"/>
<path fill="#f3dcdb" d="M395,407.5 L393.7,407.9 L391.8,408.6 L390,409.2 L388.4,409.7 L387,410.1 L385.8,410.8 L384.9,411.8 L384.3,413 L384.2,414.2 L384.6,415.3 L385.4,416.4 L386.7,417.5 L388.7,418.6 L391.1,419.7 L393.3,420.8 L395.2,422 L397,423.1 L398.3,424.2 L399.1,425.2 L399.4,426 L399.2,426.7 L398.5,427.2 L397.3,427.5 L395.8,427.5 L394,427.2 L392,426.6 L390,425.8 L388,424.9 L386.1,423.7 L384.2,422.5 L382.4,421.1 L380.8,419.5 L379.2,418.3 L377.7,417.4 L376.3,416.8 L375,416.7 L373.7,417.4 L372.6,418.7 L371.7,420 L371.1,421.4 L370.7,422.8 L370.8,424.2 L371.6,425.3 L372.9,426.4 L374.2,427.5 L375.3,428.8 L376.5,430.1 L377.5,431.7 L378.3,433.5 L379.1,435.6 L380,437.5 L381.2,439.2 L382.7,440.9 L384.2,442.5 L385.8,444.2 L387.5,446 L389.2,447.5 L391,448.7 L392.8,449.8 L394.2,450.8 L394.9,452 L395.1,453.2 L395,454.2 L394.5,455 L393.6,455.6 L392.5,455.8 L391,455.6 L389.3,455.1 L387.5,454.2 L385.8,452.8 L384.1,451.1 L382.5,449.2 L381,447.2 L379.7,445.2 L378.3,443.3 L376.9,441.7 L375.6,440.3 L374.2,439.2 L372.8,438.6 L371.5,438.3 L370,438.3 L368.4,438.8 L366.6,439.5 L365,440 L363.5,440 L362.1,439.8 L360.8,439.2 L359.7,438.2 L358.7,436.9 L357.5,435.8 L355.9,435.2 L354.2,434.8 L352.5,434.2 L351,433.3 L349.6,432.1 L348.3,430.8 L347.1,429.2 L346.1,427.4 L345,425.8 L344,424.5 L342.9,423.4 L341.7,422.5 L340.1,421.9 L338.2,421.6 L336.7,421.7 L335.5,422.2 L334.6,423.1 L334.2,424.2 L334.7,425.4 L335.7,426.9 L336.7,428.3 L337.7,429.7 L338.6,431 L339.2,432.5 L339,434.1 L338.5,435.8 L338.3,437.5 L338.9,439.2 L339.9,440.8 L340.8,442.5 L341.5,444.1 L342.1,445.8 L342.5,447.5 L342.5,449.5 L342.2,451.6 L342,453 L341.6,452.1 L340.9,450.7 L340,449.2 L338.7,447.5 L337.1,445.5 L335.5,443.5 L333.9,441.6 L332.1,439.6 L330.5,437.5 L329,435.1 L327.5,432.6 L326,430 L324.4,427.5 L322.7,425 L321,422.5 L319.3,419.9 L317.7,417.4 L316,415 L314.4,412.9 L312.7,410.9 L311,409 L309.1,407.3 L307,405.6 L305,404 L302.9,402.3 L300.9,400.6 L299,399 L297.2,397.5 L295.6,396.2 L295,395 L296.1,394.1 L298.2,393.4 L300,392.5 L301.3,391.4 L302.3,390.2 L302.5,389 L301.5,387.8 L299.6,386.5 L297.5,385 L295.2,383.3 L292.6,381.4 L290,379.5 L287.6,377.7 L285.2,376 L282.5,374.5 L279.3,373.3 L275.8,372.4 L272.5,371.5 L269.3,370.6 L266.3,369.9 L264,369 L262.8,367.9 L262.3,366.8 L262,366 L262,364.9 L261.9,363.4 L262,362 L262.1,360.9 L262.2,359.9 L262.7,358.7 L263.7,357.2 L265.1,355.6 L266.7,354 L268.8,352.6 L271.2,351.2 L273.3,350 L275,348.8 L276.5,347.7 L277.5,347 L279.2,347.7 L281.6,348.7 L284,350 L286.3,351.5 L288.6,353.3 L290.7,355.3 L292.4,357.4 L293.9,359.6 L295.3,362 L296.5,364.7 L297.5,367.6 L298.7,370 L300.2,371.5 L302,372.5 L304,373.3 L306.5,374.1 L309.3,374.8 L312,375.3 L314.7,375.7 L317.2,375.9 L319,376 L320.6,377.1 L322.9,378.6 L325.3,380 L327.6,380.9 L330,381.6 L332.5,382.5 L335,383.6 L337.5,384.8 L340,386 L342.5,387.3 L345,388.6 L347.5,390 L350,391.4 L352.5,392.7 L355,394 L357.5,395.2 L360,396.4 L362.5,397.5 L365,398.4 L367.5,399.2 L370,400 L372.5,400.8 L375,401.6 L377.5,402.5 L380.1,403.6 L382.6,404.8 L385,406 L387.2,407.2 L389.2,408.4 L391,409 L392.6,408.8 L394,408.1 L395,407.5Z"/>
<path fill="#dd9795" d="M407.5,316 L408.1,314.6 L408.9,312.7 L410,311 L411.4,309.6 L413.1,308.5 L415,307.5 L417.3,306.8 L419.9,306.4 L422.5,306 L425.1,305.6 L427.7,305.2 L430,305 L431.9,305.3 L433.4,305.8 L435,306 L436.6,305.4 L438.3,304.5 L440,304 L442,304.3 L444,305.1 L446,306 L447.7,307 L449.3,308.1 L451,309 L453.1,309.5 L455.3,309.7 L457.5,310 L459.7,310.4 L461.9,310.9 L464,311 L465.7,310.5 L467.3,309.7 L469,309 L470.9,308.3 L473,307.6 L475,307.5 L476.9,308.2 L478.9,309.5 L481,311 L483.6,312.7 L486.3,314.5 L489,316 L491.4,316.9 L493.7,317.4 L496,317.5 L498.2,316.8 L500.4,315.7 L502.5,315 L504.7,315 L506.9,315.4 L509,316 L511,316.9 L512.9,318 L515,319 L517.4,319.7 L520,320.3 L522.5,321 L524.9,321.9 L527.2,322.8 L529,324 L530.1,325.5 L530.7,327.3 L531,329 L530.9,330.8 L530.4,332.6 L530,334 L529.4,334.8 L528.9,335.3 L529,336 L530.2,337.2 L532,338.6 L534,340 L535.9,341.4 L537.9,342.8 L540,344 L542.4,344.8 L544.9,345.3 L547.5,346 L550,347 L552.5,348.1 L555,349 L557.7,349.4 L560.4,349.5 L562.5,350 L563.6,351.1 L563.9,352.6 L564,354 L563.6,355.2 L562.8,356.4 L562.5,357.5 L563.2,358.7 L564.3,359.8 L565,361 L565.1,362.3 L564.8,363.6 L564,364.5 L562.7,364.8 L561,364.6 L559,364 L556.5,363 L553.7,361.5 L551,360 L548.5,358.4 L546.1,356.7 L544,355 L542.2,353.4 L540.6,351.7 L539,350 L537.3,348 L535.7,346 L534,344 L532.3,342.2 L530.6,340.5 L529,339 L527.7,337.6 L526.4,336.5 L525,335.5 L523.2,334.8 L521.2,334.4 L519,334 L516.4,333.5 L513.7,333.1 L511,333 L508.6,333.3 L506.4,333.9 L504,334.5 L501.4,334.9 L498.6,335.4 L496,336 L493.6,336.9 L491.4,338 L489,339 L486.3,339.7 L483.6,340.3 L481,341 L478.7,341.9 L476.7,342.9 L475,344 L473.9,345.1 L473.3,346.3 L472.5,347.5 L471.5,348.7 L470.4,350 L469,351 L467.1,351.7 L464.9,352.2 L462.5,352.5 L460.1,352.6 L457.5,352.6 L455,352.5 L452.4,352.1 L449.8,351.6 L447.5,351.5 L445.6,352 L444,353 L442.5,354 L440.7,355 L439,356.2 L438,357.5 L438,359 L438.7,360.6 L439.5,362.5 L440.4,364.8 L441.4,367.4 L442.5,370 L443.6,372.5 L444.7,375.1 L446,377.5 L447.5,379.8 L449.2,382 L451,384 L453.1,385.8 L455.3,387.4 L457.5,389 L459.7,390.7 L461.9,392.3 L464,394 L466.1,395.7 L468.1,397.3 L470,399 L472,400.6 L473.8,402.3 L475,404 L475.2,406 L474.8,408 L474,410 L472.9,412 L471.5,413.8 L470,415 L468.4,415.2 L466.7,414.8 L465,414 L463.4,412.9 L461.7,411.4 L460,410 L458,408.6 L455.9,407.1 L454,406 L452.6,405.4 L451.3,405.1 L450,405 L448.4,405.4 L446.7,405.9 L445,406 L443.3,405.1 L441.7,403.8 L440,402.5 L438.3,401.5 L436.7,400.7 L435,400 L433.3,399.5 L431.7,399.1 L430,399 L428.2,399.4 L426.4,400 L425,400 L424.5,399 L424.4,397.4 L424,396 L423,395.1 L421.6,394.4 L420,394 L418.1,394 L415.9,394.3 L414,395 L412.5,396.2 L411.3,397.8 L410,399 L408.5,399.7 L406.9,400.1 L406,400 L406.2,399 L407.1,397.5 L407.5,396 L407,394.5 L406.1,393.1 L405,392.5 L403.8,393.2 L402.4,394.6 L401,396 L399.6,397 L398.3,397.9 L397.5,399 L397.8,400.6 L398.7,402.4 L399,404 L397.9,405.4 L396.2,406.6 L395,407.5 L394,408.1 L392.6,408.8 L391,409 L389.2,408.4 L387.2,407.2 L385,406 L382.6,404.8 L380.1,403.6 L377.5,402.5 L375,401.6 L372.5,400.8 L370,400 L367.5,399.2 L365,398.4 L362.5,397.5 L360,396.4 L357.5,395.2 L355,394 L352.5,392.7 L350,391.4 L347.5,390 L345,388.6 L342.5,387.3 L340,386 L337.5,384.8 L335,383.6 L332.5,382.5 L330,381.6 L327.6,380.9 L325.3,380 L322.9,378.6 L320.6,377.1 L319,376 L319.2,374.7 L319.5,372.9 L320,371.3 L320.7,370 L321.6,368.9 L322.7,368 L323.9,367.3 L325.2,366.8 L326.7,366.7 L328.5,367.3 L330.4,368.4 L332,369.3 L332.8,369.8 L333.2,370.2 L334,370 L335.6,368.9 L337.7,367.4 L340,366 L342.4,365.3 L345,364.8 L347.5,364 L349.8,362.7 L352,361.1 L354,359 L355.8,356.3 L357.5,353.2 L359,350 L360.4,346.7 L361.5,343.4 L362.5,340 L363.2,336.6 L363.7,333.1 L364,330 L364.2,327.4 L364.2,325.2 L364,323 L363.6,320.4 L362.9,317.8 L362.5,316 L363.7,315.5 L365.5,314.9 L367.5,314.5 L369.8,314.5 L372.4,314.8 L375,315 L377.4,315 L379.8,315 L382.5,315 L385.7,315 L389.3,315 L392.5,315 L395.2,315 L397.6,314.9 L400,315 L402.8,315.3 L405.6,315.7 L407.5,316Z"/>
<path fill="#c4504c" d="M362.5,316 L362.9,317.8 L363.6,320.4 L364,323 L364.2,325.2 L364.2,327.4 L364,330 L363.7,333.1 L363.2,336.6 L362.5,340 L361.5,343.4 L360.4,346.7 L359,350 L357.5,353.2 L355.8,356.3 L354,359 L352,361.1 L349.8,362.7 L347.5,364 L345,364.8 L342.4,365.3 L340,366 L337.7,367.4 L335.6,368.9 L334,370 L333.2,370.2 L332.8,369.8 L332,369.3 L330.4,368.4 L328.5,367.3 L326.7,366.7 L325.2,366.8 L323.9,367.3 L322.7,368 L321.6,368.9 L320.7,370 L320,371.3 L319.5,372.9 L319.2,374.7 L319,376 L317.2,375.9 L314.7,375.7 L312,375.3 L309.3,374.8 L306.5,374.1 L304,373.3 L302,372.5 L300.2,371.5 L298.7,370 L297.5,367.6 L296.5,364.7 L295.3,362 L293.9,359.6 L292.4,357.4 L290.7,355.3 L288.6,353.3 L286.3,351.5 L284,350 L281.6,348.7 L279.2,347.7 L277.5,347 L279.2,346.4 L281.6,345.5 L284,344.7 L286.2,344 L288.5,343.3 L290.7,342.7 L292.8,342.2 L294.9,341.8 L297,341.5 L299.3,341.2 L301.7,340.9 L304,340.7 L306,340.5 L307.8,340.3 L310,340 L312.9,339.7 L316.1,339.4 L319,339 L321.3,338.4 L323.2,337.7 L325,337 L326.7,336.3 L328.3,335.5 L330,334.5 L332,333.1 L334.1,331.5 L336,330 L337.4,328.8 L338.5,327.7 L340,326.5 L342.3,325.2 L344.9,323.8 L347.5,322.5 L349.7,321.3 L351.7,320.1 L354,319 L357,317.9 L360.2,316.8 L362.5,316Z"/>
<path fill="#9d3634" d="M367.5,259 L368.5,260.4 L369.9,262.3 L371,264 L371.5,265.3 L371.8,266.5 L372.5,267.5 L373.8,268.4 L375.5,269.2 L377.5,270 L379.9,270.8 L382.6,271.6 L385,272.5 L387,273.5 L388.7,274.6 L390,276 L390.6,277.9 L390.7,280.2 L391,282.5 L391.8,284.8 L392.9,287.1 L394,289 L395.1,290.5 L396.2,291.7 L397.5,292.5 L399.1,292.6 L401,292.3 L402.5,292.5 L403.5,293.7 L404.3,295.5 L405,297.5 L405.8,299.6 L406.7,301.9 L407.5,304 L408.5,305.8 L409.4,307.5 L410,309 L409.9,310.3 L409.5,311.4 L409,312.5 L408.5,313.8 L407.9,315.1 L407.5,316 L405.6,315.7 L402.8,315.3 L400,315 L397.6,314.9 L395.2,315 L392.5,315 L389.3,315 L385.7,315 L382.5,315 L379.8,315 L377.4,315 L375,315 L372.4,314.8 L369.8,314.5 L367.5,314.5 L365.5,314.9 L363.7,315.5 L362.5,316 L360.2,316.8 L357,317.9 L354,319 L351.7,320.1 L349.7,321.3 L347.5,322.5 L344.9,323.8 L342.3,325.2 L340,326.5 L338.5,327.7 L337.4,328.8 L336,330 L334.1,331.5 L332,333.1 L330,334.5 L328.3,335.5 L326.7,336.3 L325,337 L323.2,337.7 L321.3,338.4 L319,339 L316.1,339.4 L312.9,339.7 L310,340 L307.8,340.3 L306,340.5 L304,340.7 L301.7,340.9 L299.3,341.2 L297,341.5 L294.9,341.8 L292.8,342.2 L290.7,342.7 L288.5,343.3 L286.2,344 L284,344.7 L281.6,345.5 L279.2,346.4 L277.5,347 L278.6,346.5 L280.2,345.8 L281.7,345 L282.9,344.1 L284,343 L285,341.7 L286.1,340.2 L287.1,338.4 L288,336.7 L288.9,335.1 L289.6,333.5 L290,331.7 L289.9,329.6 L289.5,327.3 L289,325 L288.3,322.7 L287.4,320.3 L286.7,318 L286.3,315.8 L286.1,313.7 L286,311.7 L286.2,309.5 L286.5,307.5 L286.7,306 L287.8,305.5 L289.3,304.7 L291,304 L292.9,303.6 L294.9,303.2 L296.7,302.5 L298,301.1 L299,299.4 L300,298 L300.7,297.2 L301.3,296.7 L302.5,296 L304.6,294.9 L307.3,293.7 L310,292.5 L312.5,291.4 L315,290.3 L317.5,289 L320.1,287.5 L322.6,285.8 L325,284 L327.1,281.8 L329,279.5 L331,277.5 L333.1,276.2 L335.2,275.2 L337.5,274 L339.9,272.4 L342.5,270.7 L345,269 L347.5,267.3 L350,265.5 L352.5,264 L355,262.8 L357.5,261.9 L360,261 L362.8,260.2 L365.6,259.5 L367.5,259Z"/>
<path fill="#dd9795" d="M308,135.5 L308.4,135 L309.1,134.2 L310,133.3 L311.2,132.2 L312.6,131 L314,130 L315.4,129.3 L316.7,128.9 L318,128.7 L319.2,128.8 L320.4,129.3 L321.3,130 L322,131.1 L322.4,132.5 L322.7,134 L322.6,135.7 L322.4,137.6 L322.3,139.3 L322.4,140.7 L322.7,142 L323.3,143.3 L324.2,144.8 L325.4,146.4 L326.7,148 L328,149.6 L329.3,151.1 L330.7,152.7 L332.3,154.2 L333.9,155.7 L335.3,157.3 L336.3,159.1 L337.1,160.9 L338,162.7 L339.2,164.3 L340.5,165.7 L342,167.3 L343.7,169.1 L345.6,171 L347.3,172.7 L348.4,173.9 L349.3,174.8 L350.5,176 L352.4,177.8 L354.7,180 L357,182 L359.2,183.7 L361.3,185.4 L363,187 L364.3,188.7 L365.2,190.3 L365.5,192 L365.1,193.8 L364.2,195.6 L363,197 L361.2,197.7 L359.1,198 L357.5,198.8 L356.6,200.2 L356.1,202.1 L356,204 L356.5,205.8 L357.3,207.6 L357.5,209.5 L356.6,211.5 L355.1,213.5 L354,215.5 L353.4,217.4 L353.2,219.1 L353.5,221 L354.4,223 L355.8,225 L357.5,227 L359.7,229 L362.2,231 L364.5,233 L366.3,235 L367.9,236.9 L369,239 L369.7,241.2 L369.9,243.6 L370,246 L369.8,248.7 L369.4,251.5 L369,254 L368.5,256.1 L367.9,257.8 L367.5,259 L365.6,259.5 L362.8,260.2 L360,261 L357.5,261.9 L355,262.8 L352.5,264 L350,265.5 L347.5,267.3 L345,269 L342.5,270.7 L339.9,272.4 L337.5,274 L335.2,275.2 L333.1,276.2 L331,277.5 L329,279.5 L327.1,281.8 L325,284 L322.6,285.8 L320.1,287.5 L317.5,289 L315,290.3 L312.5,291.4 L310,292.5 L307.3,293.7 L304.6,294.9 L302.5,296 L301.3,296.7 L300.7,297.2 L300,298 L299,299.4 L298,301.1 L296.7,302.5 L294.9,303.2 L292.9,303.6 L291,304 L289.3,304.7 L287.8,305.5 L286.7,306 L285.7,304.9 L284.3,303.3 L283,301.7 L282,300.1 L281,298.3 L280,296.7 L278.8,295.1 L277.5,293.7 L276,292.5 L274.1,291.7 L272.1,291.3 L270,291 L267.8,290.9 L265.6,290.9 L264,291 L262.7,288.8 L260.9,285.6 L259,282.5 L257.1,279.8 L255.2,277.3 L254,275 L253.7,273 L254.1,271.3 L255,270 L256.4,269.4 L258.2,269.3 L260,269 L261.9,268.2 L263.7,267.2 L265,266 L265.6,264.4 L265.6,262.5 L265,261 L263.4,260.1 L261.3,259.6 L260,259 L260.2,258.2 L261.3,257.3 L262.5,256 L263.7,254.3 L264.9,252.2 L266,250 L266.8,247.5 L267.4,244.9 L267.5,242.5 L266.7,240.6 L265.3,239.1 L264,237.5 L262.7,235.7 L261.5,234 L261,232.5 L261.7,231.4 L263.1,230.6 L265,230 L267.3,229.6 L269.9,229.3 L272.5,228.8 L275.1,227.7 L277.6,226.4 L279,225 L278.5,223.4 L276.8,221.6 L275,220 L273.2,218.6 L271.3,217.3 L270,216 L269.7,214.9 L270,213.8 L271,212.5 L272.9,211 L275.4,209.4 L277.5,207.5 L279,205.1 L280.1,202.5 L281,200 L281.8,197.7 L282.4,195.5 L282.5,193.8 L281.5,192.6 L280,191.9 L279,191 L279.2,189.7 L279.9,188.2 L280.7,186.7 L281.5,185.3 L282.3,184 L282.7,182.7 L282.4,181.5 L281.7,180.5 L281.3,179.3 L281.3,178 L281.4,176.7 L282,175.3 L283,173.9 L284.4,172.6 L286,171.3 L287.7,170.1 L289.5,169 L291.3,168 L293.1,167.2 L294.9,166.6 L296.7,166 L298.5,165.4 L300.4,164.9 L302,164.5 L303.2,164.3 L304.3,164.3 L305.3,164.5 L306.4,165.1 L307.5,166 L308.7,166.7 L310,167.1 L311.4,167.4 L312.7,167.3 L313.7,166.9 L314.6,166.2 L315.3,165.3 L315.8,164.1 L316,162.7 L316,161.3 L315.7,160.1 L315,158.9 L314,158 L312.4,157.4 L310.5,157 L308.7,156.7 L307.3,156.5 L306,156.4 L305,156 L304.2,155.3 L303.7,154.4 L303.5,153.3 L303.6,151.9 L304,150.4 L304.5,148.7 L305.1,146.9 L305.8,145 L306.5,143.3 L307.1,141.9 L307.6,140.7 L308,139.5 L308.1,138 L308.1,136.5 L308,135.5Z"/>
<path fill="#9d3634" d="M225,304 L226,302.6 L227.5,300.7 L229,299 L230.3,297.6 L231.6,296.5 L233,295.5 L234.6,294.7 L236.3,294.2 L238,294 L239.7,294.2 L241.4,294.8 L243,295.5 L244.4,296.4 L245.8,297.4 L247,298 L248.1,298.2 L249,298.1 L250,297.5 L250.9,296.2 L251.9,294.5 L253,293 L254.3,292.1 L255.8,291.4 L257.5,291 L259.8,290.9 L262.2,290.9 L264,291 L265.6,290.9 L267.8,290.9 L270,291 L272.1,291.3 L274.1,291.7 L276,292.5 L277.5,293.7 L278.8,295.1 L280,296.7 L281,298.3 L282,300.1 L283,301.7 L284.3,303.3 L285.7,304.9 L286.7,306 L286.5,307.5 L286.2,309.5 L286,311.7 L286.1,313.7 L286.3,315.8 L286.7,318 L287.4,320.3 L288.3,322.7 L289,325 L289.5,327.3 L289.9,329.6 L290,331.7 L289.6,333.5 L288.9,335.1 L288,336.7 L287.1,338.4 L286.1,340.2 L285,341.7 L284,343 L282.9,344.1 L281.7,345 L280.2,345.8 L278.6,346.5 L277.5,347 L276.3,346 L274.6,344.6 L273,343 L271.9,341.4 L271,339.7 L270,338 L269,336.4 L267.9,334.7 L266.7,333 L265.4,331.1 L264,329.1 L262.5,327.5 L261,326.6 L259.5,326 L258,325.8 L256.4,326 L254.7,326.5 L253,326.7 L251.3,326.4 L249.5,325.7 L248,325 L246.9,324.1 L245.9,323.2 L245,322.5 L243.9,322.4 L242.8,322.6 L241.7,322.5 L240.5,321.9 L239.4,321 L238.5,320 L238.2,318.8 L238.3,317.5 L238,316 L237.3,314.3 L236.2,312.6 L235,311 L233.5,309.9 L231.7,309 L230,308 L228.1,306.6 L226.3,305.1 L225,304Z"/>
<path fill="#c4504c" d="M212.5,297 L214.6,296.9 L217.6,296.7 L220,297 L221.2,298.1 L221.9,299.6 L222.5,301 L223.4,302.2 L224.4,303.3 L225,304 L226.3,305.1 L228.1,306.6 L230,308 L231.7,309 L233.5,309.9 L235,311 L236.2,312.6 L237.3,314.3 L238,316 L238.3,317.5 L238.2,318.8 L238.5,320 L239.4,321 L240.5,321.9 L241.7,322.5 L242.8,322.6 L243.9,322.4 L245,322.5 L245.9,323.2 L246.9,324.1 L248,325 L249.5,325.7 L251.3,326.4 L253,326.7 L254.7,326.5 L256.4,326 L258,325.8 L259.5,326 L261,326.6 L262.5,327.5 L264,329.1 L265.4,331.1 L266.7,333 L267.9,334.7 L269,336.4 L270,338 L271,339.7 L271.9,341.4 L273,343 L274.6,344.6 L276.3,346 L277.5,347 L276.5,347.7 L275,348.8 L273.3,350 L271.2,351.2 L268.8,352.6 L266.7,354 L265.1,355.6 L263.7,357.2 L262.7,358.7 L262.2,359.9 L262.1,360.9 L262,362 L261.9,363.4 L262,364.9 L262,366 L260.7,366.7 L258.8,367.6 L256.7,368 L254.6,367.6 L252.3,366.9 L250,366 L247.7,365.2 L245.3,364.3 L243,363.5 L240.7,362.9 L238.5,362.4 L237,362 L237,361 L237.1,359.5 L237,358 L236.7,356.5 L236.3,355 L236,354 L234.4,353 L232.1,351.5 L230,350 L228.4,348.7 L227,347.5 L226,346 L225.4,344.1 L225.2,342.1 L225,340 L224.8,337.9 L224.6,335.9 L224,334 L223,332.4 L221.6,331.1 L220,330 L217.8,329.1 L215.3,328.4 L213.5,328 L213.9,327.3 L214.5,326.3 L215,325 L215.4,323.6 L215.8,322 L216,320 L215.8,317.5 L215.4,314.7 L215,312 L214.5,309.6 L214,307.4 L213.5,305 L213.1,302.1 L212.7,299.1 L212.5,297Z"/>
</g>
<g fill="none" stroke="#14183c" stroke-width="1.6" stroke-linejoin="round" stroke-linecap="round" stroke-opacity="0.75">
<path d="M212.5,297 L212.7,299.1 L213.1,302.1 L213.5,305 L214,307.4 L214.5,309.6 L215,312 L215.4,314.7 L215.8,317.5 L216,320 L215.8,322 L215.4,323.6 L215,325 L214.5,326.3 L213.9,327.3 L213.5,328"/>
<path d="M213.5,328 L215.3,328.4 L217.8,329.1 L220,330 L221.6,331.1 L223,332.4 L224,334 L224.6,335.9 L224.8,337.9 L225,340 L225.2,342.1 L225.4,344.1 L226,346 L227,347.5 L228.4,348.7 L230,350 L232.1,351.5 L234.4,353 L236,354 L236.3,355 L236.7,356.5 L237,358 L237.1,359.5 L237,361 L237,362"/>
</g>
<g class="lab">
<text x="201.5" y="225.3" fill="#111" textLength="37.8" lengthAdjust="spacingAndGlyphs">4,3</text>
<text x="288" y="238.7" fill="#111" textLength="37.8" lengthAdjust="spacingAndGlyphs">4,5</text>
<text x="131.7" y="264" fill="#fff" textLength="37.8" lengthAdjust="spacingAndGlyphs">4,1</text>
<text x="246.2" y="320" fill="#fff" textLength="37.8" lengthAdjust="spacingAndGlyphs">4,2</text>
<text x="321.2" y="311" fill="#fff" textLength="37.8" lengthAdjust="spacingAndGlyphs">4,2</text>
<text x="115.2" y="335.5" fill="#111" textLength="37.8" lengthAdjust="spacingAndGlyphs">4,5</text>
<text x="226.1" y="350.5" fill="#111" textLength="37.8" lengthAdjust="spacingAndGlyphs">4,4</text>
<text x="310.2" y="360" fill="#111" textLength="37.8" lengthAdjust="spacingAndGlyphs">4,3</text>
<text x="389.2" y="350" fill="#111" textLength="37.8" lengthAdjust="spacingAndGlyphs">4,5</text>
<text x="119.2" y="377.5" fill="#fff" textLength="37.8" lengthAdjust="spacingAndGlyphs">4,2</text>
<text x="137.9" y="418.7" fill="#111" textLength="37.8" lengthAdjust="spacingAndGlyphs">4,6</text>
<text x="251.2" y="406" fill="#111" textLength="37.8" lengthAdjust="spacingAndGlyphs">4,3</text>
<text x="322.7" y="413.7" fill="#111" textLength="37.8" lengthAdjust="spacingAndGlyphs">4,7</text>
<text x="117.9" y="510" fill="#111" textLength="37.8" lengthAdjust="spacingAndGlyphs">4,6</text>
<text x="236.7" y="498" fill="#fff" textLength="37.8" lengthAdjust="spacingAndGlyphs">4,1</text>
</g>
<g class="t">
<text y="32.8"><tspan x="19.1" font-size="20.2" font-weight="400" fill="#953735" textLength="61.1" lengthAdjust="spacingAndGlyphs">Figura</tspan> <tspan x="88.0" font-size="20.2" font-weight="400" fill="#953735" textLength="29.3" lengthAdjust="spacingAndGlyphs">18.</tspan> <tspan x="123.0" font-size="20.2" font-weight="400" fill="#953735" textLength="46.5" lengthAdjust="spacingAndGlyphs">Voto</tspan> <tspan x="176.1" font-size="20.2" font-weight="400" fill="#953735" textLength="65.7" lengthAdjust="spacingAndGlyphs">medio</tspan> <tspan x="247.9" font-size="20.2" font-weight="400" fill="#953735" textLength="26.4" lengthAdjust="spacingAndGlyphs">tpl</tspan> <tspan x="280.6" font-size="20.2" font-weight="400" fill="#953735" textLength="17.4" lengthAdjust="spacingAndGlyphs">di</tspan> <tspan x="305.4" font-size="20.2" font-weight="400" fill="#953735" textLength="94.7" lengthAdjust="spacingAndGlyphs">superficie</tspan> <tspan x="407.4" font-size="20.2" font-weight="400" fill="#953735" textLength="93.6" lengthAdjust="spacingAndGlyphs">(Municipi</tspan> <tspan x="508.1" font-size="20.2" font-weight="400" fill="#953735" textLength="56.4" lengthAdjust="spacingAndGlyphs">2018)</tspan></text>
<text y="99"><tspan x="329.4" font-size="18.4" font-weight="700" fill="#a81e1e" textLength="40.3" lengthAdjust="spacingAndGlyphs">BOX</tspan> <tspan x="375.2" font-size="18.4" font-weight="700" fill="#a81e1e" textLength="10.3" lengthAdjust="spacingAndGlyphs">1</tspan> <tspan x="394.5" font-size="18.4" font-weight="400" fill="#222" textLength="136.5" lengthAdjust="spacingAndGlyphs">ACCESSIBILITÀ</tspan> <tspan x="538.5" font-size="18.4" font-weight="400" fill="#222" textLength="36.2" lengthAdjust="spacingAndGlyphs">TPL:</tspan></text>
<text y="129.6"><tspan x="481.1" font-size="18.6" font-weight="400" fill="#222" textLength="18.3" lengthAdjust="spacingAndGlyphs">n.</tspan> <tspan x="505.3" font-size="18.6" font-weight="400" fill="#222" textLength="17.4" lengthAdjust="spacingAndGlyphs">di</tspan> <tspan x="527.0" font-size="18.6" font-weight="400" fill="#222" textLength="46.2" lengthAdjust="spacingAndGlyphs">linee</tspan></text>
<text y="159.8"><tspan x="354.9" font-size="18.6" font-weight="400" fill="#222" textLength="86.0" lengthAdjust="spacingAndGlyphs">vicinanza</tspan> <tspan x="447.0" font-size="18.6" font-weight="400" fill="#222" textLength="47.4" lengthAdjust="spacingAndGlyphs">delle</tspan> <tspan x="499.9" font-size="18.6" font-weight="400" fill="#222" textLength="74.1" lengthAdjust="spacingAndGlyphs">fermate</tspan></text>
<text y="190"><tspan x="393.5" font-size="18.6" font-weight="400" fill="#222" textLength="92.5" lengthAdjust="spacingAndGlyphs">frequenza</tspan> <tspan x="494.4" font-size="18.6" font-weight="400" fill="#222" textLength="79.6" lengthAdjust="spacingAndGlyphs">passaggi</tspan></text>
</g>

<line x1="48" y1="321" x2="532" y2="321" stroke="#fff" stroke-opacity="0.16" stroke-width="1"/>
<line x1="90.5" y1="348" x2="71" y2="391" stroke="#e9a09c" stroke-opacity="0.22" stroke-width="1"/>
</svg>
</body></html>
